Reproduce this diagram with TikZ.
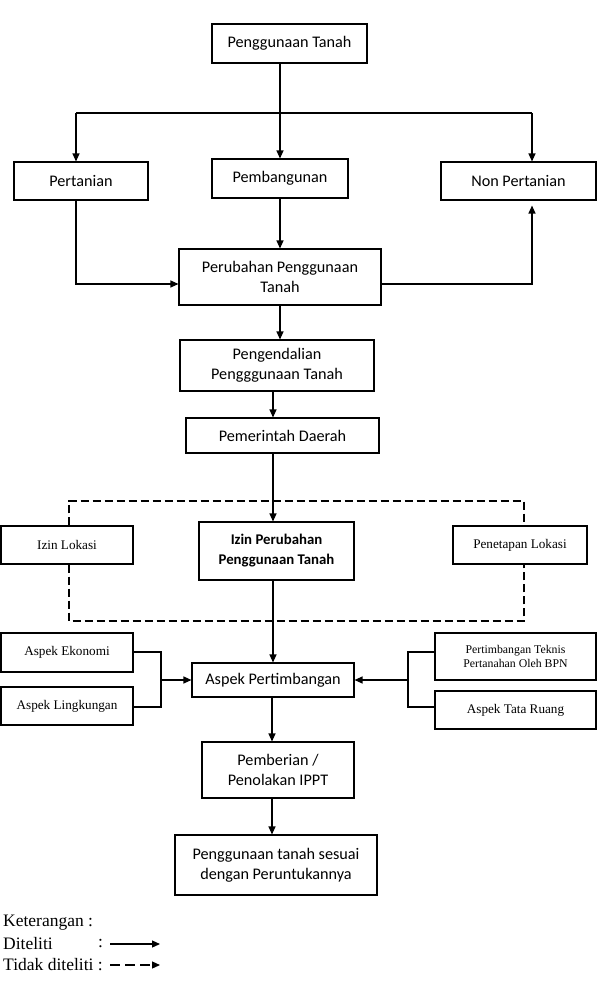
\documentclass[tikz,border=0pt]{standalone}
\usepackage{fontspec}
\setmainfont{Carlito}
\newfontfamily\tnr{Liberation Serif}
\usetikzlibrary{arrows.meta}
\begin{document}
\begin{tikzpicture}[x=1pt,y=-1pt,
  box/.style={draw=black, line width=1.1pt, align=center, font=\fontsize{16.2}{20}\selectfont, inner sep=0pt},
  sbox/.style={box, font=\tnr\fontsize{13.2}{16}\selectfont},
  wh/.style 2 args={minimum width=#1pt, minimum height=#2pt},
  arr/.style={line width=1.2pt, -{Triangle[length=8pt,width=7pt]}},
  ln/.style={line width=1.2pt},
  dsh/.style={line width=1.1pt, dash pattern=on 8pt off 4pt},
  leg/.style={font=\tnr\fontsize{17.5}{21}\selectfont, inner sep=0pt, anchor=west}]
\useasboundingbox (0,0) rectangle (600,987);
% boxes
\node[box, wh={155}{39}] (top) at (289.5,43.5) {Penggunaan Tanah};
\node[box, wh={134}{38}] (pert) at (81,181) {Pertanian};
\node[box, wh={136}{39}] (pemb) at (280,178.5) {Pembangunan};
\node[box, wh={155}{38}] (nonp) at (518.5,181) {Non Pertanian};
\node[box, wh={202}{56}] (perub) at (280,277) {Perubahan Penggunaan\\Tanah};
\node[box, wh={194}{51}] (peng) at (277,365.5) {Pengendalian\\Pengggunaan Tanah};
\node[box, wh={193}{35}] (pem) at (282.5,435.5) {Pemerintah Daerah};
\node[sbox, wh={132}{38}] (izl) at (67,545) {Izin Lokasi};
\node[box, wh={155}{58}, font=\bfseries\fontsize{14.8}{20}\selectfont] (izp) at (276.5,551) {Izin Perubahan\\Penggunaan Tanah};
\node[sbox, wh={134}{38}] (pen) at (520,545) {Penetapan Lokasi};
\node[sbox, wh={132}{39}] (ek) at (67,652.5) {Aspek Ekonomi};
\node[sbox, wh={132}{38}] (lk) at (67,706) {Aspek Lingkungan};
\node[box, wh={162}{34}] (asp) at (273,680) {Aspek Pertimbangan};
\node[sbox, wh={161}{47}, font=\tnr\fontsize{11.8}{14}\selectfont] (pt) at (515.5,656.5) {Pertimbangan Teknis\\Pertanahan Oleh BPN};
\node[sbox, wh={161}{38}] (tr) at (515.5,710) {Aspek Tata Ruang};
\node[box, wh={152}{56}] (pbr) at (278,770) {Pemberian /\\Penolakan IPPT};
\node[box, wh={202}{60}] (fin) at (276,865) {Penggunaan tanah sesuai\\dengan Peruntukannya};
% top branching
\coordinate (jl) at (76,113);
\coordinate (jc) at (280,113);
\coordinate (jr) at (532,113);
\draw[ln] (jl) -- (jr);
\draw[arr] (jc |- top.south) -- (pemb.north);
\draw[arr] (jl) -- (jl |- pert.north);
\draw[arr] (jr) -- (jr |- nonp.north);
\coordinate (pl) at (76,284);
\coordinate (pr) at (532,284);
\draw[arr] (jl |- pert.south) -- (pl) -- (pl -| perub.west);
\draw[arr] (pemb.south) -- (perub.north);
\draw[arr, shorten >=5pt] (perub.east |- pr) -- (pr) -- (jr |- nonp.south);
% main column
\coordinate (c2) at (273,0);
\coordinate (c3) at (272,0);
\draw[arr] (perub.south) -- (perub.south |- peng.north);
\draw[arr] (c2 |- peng.south) -- (c2 |- pem.north);
\draw[arr] (c2 |- pem.south) -- (c2 |- izp.north);
\draw[arr] (c2 |- izp.south) -- (c2 |- asp.north);
% dashed frame
\coordinate (dl) at (69,501);
\coordinate (dr) at (524,501);
\coordinate (dl2) at (69,621);
\coordinate (dr2) at (524,621);
\draw[dsh] (dl |- izl.north) -- (dl) -- (dr) -- (dr |- pen.north);
\draw[dsh] (dl |- izl.south) -- (dl2) -- (dr2) -- (dr |- pen.south);
% brackets
\coordinate (bl1) at (161,652);
\coordinate (bl2) at (161,707);
\draw[ln] (bl1 -| ek.east) -- (bl1) -- (bl2) -- (bl2 -| lk.east);
\draw[arr] (bl1 |- asp.west) -- (asp.west);
\coordinate (br1) at (408,652);
\coordinate (br2) at (408,707);
\draw[ln] (br1 -| pt.west) -- (br1) -- (br2) -- (br2 -| tr.west);
\draw[arr] (br1 |- asp.east) -- (asp.east);
\draw[arr] (c3 |- asp.south) -- (c3 |- pbr.north);
\draw[arr] (c3 |- pbr.south) -- (c3 |- fin.north);
% legend
\node[leg] (ket) at (3,923) {Keterangan :};
\node[leg] (dit) at (3,944) {Diteliti};
\node[leg] (col) at (98,944) {:};
\coordinate (a1) at (110,944);
\coordinate (a2) at (160,944);
\draw[arr] (a1) -- (a2);
\node[leg] (tdk) at (3,965) {Tidak diteliti :};
\coordinate (b1) at (110,965);
\coordinate (b2) at (160,965);
\draw[arr, dash pattern=on 10pt off 5pt] (b1) -- (b2);
\end{tikzpicture}
\end{document}
